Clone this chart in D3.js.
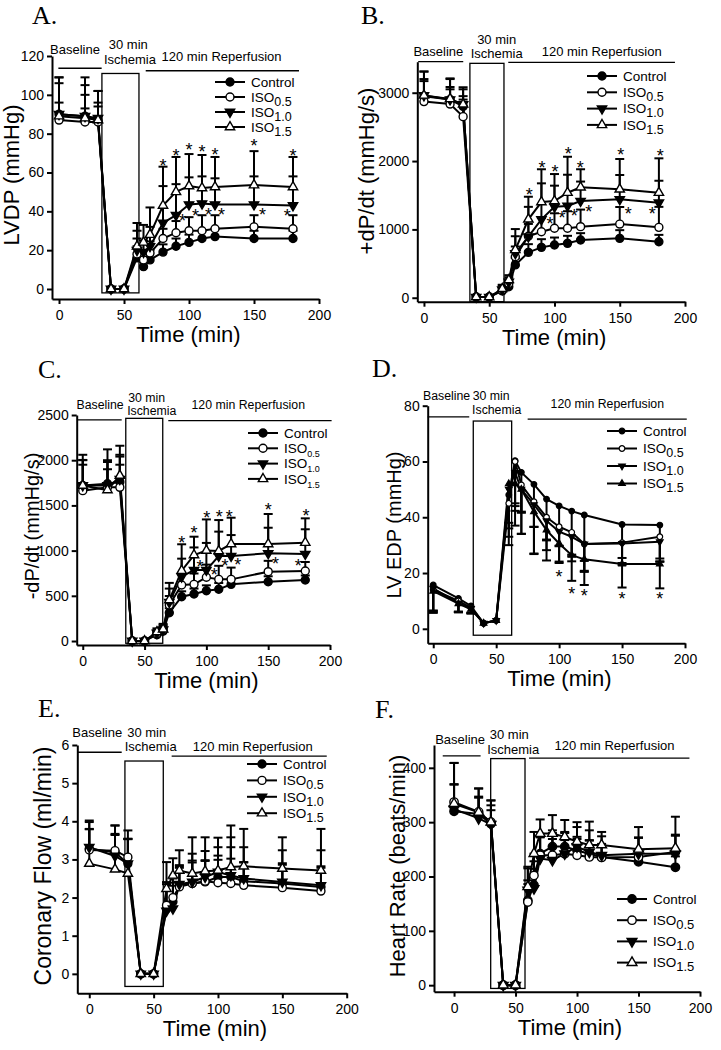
<!DOCTYPE html>
<html>
<head>
<meta charset="utf-8">
<script src="https://cdn.jsdelivr.net/npm/d3@7"></script>
<style>
  body { margin: 0; background: #fff; }
  text { font-family: "Liberation Sans", Arial, sans-serif; fill: #000; }
  .letter { font-family: "Liberation Serif", "Times New Roman", serif; font-size: 26px; }
  .axis path, .axis line { stroke: #000; stroke-width: 2; }
  .axis text { font-size: 14px; font-family: "Liberation Sans", Arial, sans-serif; }
  .phase { stroke: #000; stroke-width: 1.3; fill: none; }
  .sline { stroke: #000; stroke-width: 2; fill: none; }
  .err line { stroke: #000; stroke-width: 2; }
  .star { font-size: 18px; }
  .legend { font-size: 13.5px; }
</style>
</head>
<body>
<svg id="fig" width="721" height="1050"></svg>
<script>
// sampling times (min) shared by all panels
var times = [0, 20, 30, 40, 50, 60, 65, 70, 80, 90, 100, 110, 120, 150, 180];
var seriesNames = ["Control", "ISO0.5", "ISO1.0", "ISO1.5"];
var xTicks = [0, 50, 100, 150, 200];

// A. LVDP (mmHg)
var lvdpControl = [90, 89, 87, 0, 0, 16, 11.5, 15, 19, 22, 24, 26, 27, 26, 26];
var lvdpIso05   = [87, 86, 86, 0, 0, 18, 15, 18.5, 26, 29, 30, 30, 31, 32, 31];
var lvdpIso10   = [90, 89, 88, 0, 0, 20, 19, 22, 34, 38, 43.5, 44, 43.5, 43.5, 43];
var lvdpIso15   = [89, 88, 87, 0, 0, 22, 24, 28, 43, 50, 53, 52, 52.5, 53.5, 52.5];
var lvdpControlSd = [6, 4, 7, 0, 0, 6, 5, 5, 4, 4, 4, 4, 4, 4, 4];
var lvdpIso05Sd   = [19, 14, 10, 0, 0, 8, 5, 6, 5, 6, 7, 8, 7, 6, 7];
var lvdpIso10Sd   = [19, 16, 14, 0, 0, 10, 6, 10, 19, 16, 14, 14, 13.5, 14.5, 15];
var lvdpIso15Sd   = [20, 21, 15, 0, 0, 12, 9, 14, 20, 18, 16.5, 17, 15.5, 17.5, 15.5];
var lvdpStars = [[80, 65.6], [90, 70.7], [100, 73.8], [110, 73], [120, 71], [150, 76], [180, 70.5],
                 [95, 37], [105, 40], [115, 40.5], [125, 40.5], [156.5, 40.5], [175.5, 40]];

// B. +dP/dt (mmHg/s)
var dpPosControl = [2950, 2900, 2800, 10, 10, 100, 160, 480, 664, 737, 771, 796, 845, 869, 820];
var dpPosIso05   = [2870, 2834, 2650, 10, 10, 110, 210, 600, 900, 966, 1016, 1016, 1040, 1078, 1030];
var dpPosIso10   = [2960, 2900, 2830, 10, 10, 120, 230, 650, 893, 1147, 1330, 1342, 1415, 1440, 1390];
var dpPosIso15   = [2960, 2910, 2830, 10, 10, 130, 260, 700, 1147, 1400, 1415, 1537, 1616, 1586, 1537];
var dpPosControlSd = [250, 150, 150, 0, 0, 40, 60, 100, 120, 120, 110, 110, 100, 120, 100];
var dpPosIso05Sd   = [300, 250, 250, 0, 0, 40, 60, 150, 180, 200, 220, 250, 250, 250, 300];
var dpPosIso10Sd   = [350, 300, 220, 0, 0, 60, 100, 250, 437, 527, 310, 458, 285, 356, 322];
var dpPosIso15Sd   = [350, 300, 250, 0, 0, 60, 40, 305, 331, 480, 395, 526, 264, 444, 503];
var dpPosStars = [[80.7, 1566], [90.4, 1967], [100.4, 1908], [110.6, 2172], [119.8, 1967], [150.7, 2151], [181, 2137],
                  [96.5, 1147], [105.7, 1225], [115.2, 1254], [126.2, 1313], [156.6, 1294], [175, 1294]];

// C. -dP/dt (mmHg/s)
var dpNegControl = [1720, 1740, 1760, 0, 0, 70, 110, 313, 490, 520, 556, 572, 627, 656, 675];
var dpNegIso05   = [1663, 1700, 1700, 0, 0, 80, 120, 398, 620, 627, 705, 682, 682, 767, 774];
var dpNegIso10   = [1720, 1720, 1790, 0, 0, 90, 125, 430, 711, 785, 785, 940, 940, 970, 962];
var dpNegIso15   = [1720, 1670, 1830, 0, 0, 100, 130, 453, 778, 951, 1000, 996, 1073, 1073, 1088];
var dpNegControlSd = [230, 160, 190, 0, 0, 20, 30, 50, 60, 60, 60, 70, 60, 60, 50];
var dpNegIso05Sd   = [340, 300, 360, 0, 0, 30, 40, 100, 120, 120, 140, 150, 130, 120, 100];
var dpNegIso10Sd   = [280, 260, 250, 0, 0, 30, 50, 150, 200, 250, 300, 270, 232, 283, 274];
var dpNegIso15Sd   = [340, 450, 330, 0, 0, 40, 60, 190, 292, 203, 345, 342, 291, 332, 269];
var dpNegStars = [[80, 1136], [90, 1239], [100.3, 1412], [110.5, 1419], [118.6, 1419], [150, 1493], [180.6, 1430],
                  [94.9, 866], [106.4, 778], [115, 877], [125.3, 885], [156, 896], [174.4, 877]];

// D. LV EDP (mmHg), error bars point down
var edpControl = [15.7, 10.9, 8.2, 2, 3, 48, 60.3, 56.1, 51.8, 46.5, 44.1, 42.2, 40.8, 37.4, 37.2];
var edpIso05   = [14, 10, 7.5, 2, 3, 45, 60, 51.6, 45.6, 40, 36.6, 34.6, 30.4, 30.9, 33];
var edpIso10   = [14.5, 9.2, 7.3, 2, 3, 50, 56, 50, 44.5, 38.7, 34.8, 33, 30.4, 30.6, 31.2];
var edpIso15   = [13.5, 9, 7, 2, 3, 52, 52, 50, 42, 35.4, 30.6, 26.4, 24.9, 23.2, 23.2];
var edpControlSd = [10, 5, 2.5, 0, 0, 10, 18, 22, 25, 22, 20, 18, 20, 12, 12];
var edpIso05Sd   = [8, 4, 2, 0, 0, 12, 15, 10, 9, 8, 7, 8, 10, 8, 9];
var edpIso10Sd   = [8, 3, 1.5, 0, 0, 14, 12, 8, 8, 7, 5, 7, 6, 7, 7];
var edpIso15Sd   = [7, 3, 1.5, 0, 0, 22, 15, 16, 15, 7.2, 7, 9.2, 9.2, 8.4, 8.7];
var edpStars = [[100, 20.1], [110, 14.1], [120, 13.3], [150, 12.3], [180, 12.1]];

// E. Coronary flow (ml/min)
var flowControl = [3.28, 3.19, 2.89, 0, 0, 1.7, 1.89, 2.32, 2.37, 2.41, 2.54, 2.54, 2.43, 2.37, 2.28];
var flowIso05   = [3.25, 3.23, 3.06, 0, 0, 1.8, 2.0, 2.28, 2.37, 2.43, 2.39, 2.37, 2.32, 2.26, 2.17];
var flowIso10   = [3.32, 3.09, 2.89, 0, 0, 1.65, 1.71, 2.35, 2.41, 2.54, 2.67, 2.58, 2.5, 2.41, 2.32];
var flowIso15   = [2.89, 2.74, 2.63, 0, 0, 2.23, 2.58, 2.71, 2.63, 2.69, 2.71, 2.8, 2.82, 2.76, 2.71];
var flowControlSd = [0.7, 0.7, 0.65, 0, 0, 0.7, 0.5, 0.5, 0.6, 0.55, 0.56, 0.78, 0.5, 0.53, 0.5];
var flowIso05Sd   = [0.55, 0.44, 0.7, 0, 0, 0.6, 0.5, 0.5, 0.55, 0.55, 0.6, 0.65, 0.6, 0.6, 0.65];
var flowIso10Sd   = [0.7, 0.8, 0.65, 0, 0, 0.7, 0.6, 0.5, 0.74, 0.68, 0.65, 1.0, 0.82, 0.83, 0.92];
var flowIso15Sd   = [0.9, 0.9, 0.9, 0, 0, 0.7, 0.45, 0.53, 0.95, 0.89, 0.86, 1.09, 0.98, 0.82, 1.09];

// F. Heart rate (beats/min)
var hrControl = [320, 315, 297, 0, 0, 156, 184, 242, 255, 255, 248, 242, 236, 227, 217];
var hrIso05   = [337, 319, 300, 0, 0, 153, 202, 239, 239, 242, 239, 236, 235, 236, 245];
var hrIso10   = [324, 307, 296, 0, 0, 175, 178, 233, 230, 242, 255, 245, 239, 242, 242];
var hrIso15   = [334, 318, 300, 0, 0, 181, 242, 279, 279, 273, 264, 258, 258, 250, 252];
var hrControlSd = [50, 30, 25, 0, 0, 30, 30, 30, 30, 25, 25, 25, 20, 20, 20];
var hrIso05Sd   = [72, 43, 40, 0, 0, 40, 40, 35, 30, 25, 30, 30, 25, 35, 30];
var hrIso10Sd   = [45, 40, 35, 0, 0, 40, 50, 40, 50, 40, 45, 40, 35, 30, 35];
var hrIso15Sd   = [75, 44, 40, 0, 0, 37, 40, 26, 34, 31, 27, 43, 24, 41, 58];

// layout of the six panels (phase marks are given in data units)
var panels = [
  { letter: "A.", lx: 32, ly: 24, xr: [52, 319], xd: [-5.4, 200], yr: [299, 56], yd: [-5.15, 120],
    yticks: [0, 20, 40, 60, 80, 100, 120], ylab: "LVDP (mmHg)", ylx: 19, yly: 175, yls: 22,
    means: [lvdpControl, lvdpIso05, lvdpIso10, lvdpIso15],
    sds: [lvdpControlSd, lvdpIso05Sd, lvdpIso10Sd, lvdpIso15Sd], errDir: 1, stars: lvdpStars,
    phase: { base: [-0.5, 32.8, 113.7], rep: [66.7, 184.6, 112.4], box: [33, 61.5, -2, 111],
             tBase: [12.3, 123.4], t30: [53.3, 125.7], tIsch: [54.6, 118], tRep: [125, 119.6], fs: 13 },
    legend: { x: 230, y: 82, gap: 15, subSize: 12.5, subDy: 4 }, mk: 1 },
  { letter: "B.", lx: 361, ly: 24, xr: [417.3, 685], xd: [-5.1, 200], yr: [301.7, 61.7], yd: [-58, 3454],
    yticks: [0, 1000, 2000, 3000], ylab: "+dP/dt (mmHg/s)", ylx: 374, yly: 171, yls: 22,
    means: [dpPosControl, dpPosIso05, dpPosIso10, dpPosIso15],
    sds: [dpPosControlSd, dpPosIso05Sd, dpPosIso10Sd, dpPosIso15Sd], errDir: 1, stars: dpPosStars,
    phase: { base: [-4.4, 30.1, 3454], rep: [64.6, 192.3, 3444], box: [35.2, 61.3, -58, 3430],
             tBase: [11, 3600], t30: [55.7, 3782], tIsch: [55.7, 3577], tRep: [136.2, 3600], fs: 13 },
    legend: { x: 602, y: 76, gap: 16.3, subSize: 12.5, subDy: 4 }, mk: 1 },
  { letter: "C.", lx: 38, ly: 378, xr: [76.7, 330], xd: [-4.9, 200], yr: [645, 415], yd: [-44, 2500],
    yticks: [0, 500, 1000, 1500, 2000, 2500], ylab: "-dP/dt (mmHg/s)", ylx: 39, yly: 526, yls: 20,
    means: [dpNegControl, dpNegIso05, dpNegIso10, dpNegIso15],
    sds: [dpNegControlSd, dpNegIso05Sd, dpNegIso10Sd, dpNegIso15Sd], errDir: 1, stars: dpNegStars,
    phase: { base: [-4.4, 31.5, 2445], rep: [69.2, 201.3, 2437], box: [34.8, 64.7, -25, 2463],
             tBase: [14, 2618], t30: [51.7, 2696], tIsch: [55.8, 2544], tRep: [133.9, 2611], fs: 12.3 },
    legend: { x: 263, y: 433, gap: 15.3, subSize: 9, subDy: 4 }, mk: 1 },
  { letter: "D.", lx: 372, ly: 377, xr: [427.7, 685], xd: [-4.4, 200], yr: [643.3, 405.7], yd: [-5.2, 80],
    yticks: [0, 20, 40, 60, 80], ylab: "LV EDP (mmHg)", ylx: 401, yly: 525, yls: 20,
    means: [edpControl, edpIso05, edpIso10, edpIso15],
    sds: [edpControlSd, edpIso05Sd, edpIso10Sd, edpIso15Sd], errDir: -1, stars: edpStars,
    phase: { base: [-4.4, 28.6, 76], rep: [75, 201.4, 75.2], box: [31.8, 62.3, -2.3, 74.5],
             tBase: [10.6, 83.5], t30: [46, 83.5], tIsch: [50.4, 78.7], tRep: [138.3, 80.6], fs: 12.3 },
    legend: { x: 622, y: 431, gap: 17.5, subSize: 12.5, subDy: 4 }, mk: 0.5, solidTri: true },
  { letter: "E.", lx: 38, ly: 717, xr: [77.3, 346.7], xd: [-9.3, 200], yr: [993.3, 745], yd: [-0.51, 6],
    yticks: [0, 1, 2, 3, 4, 5, 6], ylab: "Coronary Flow (ml/min)", ylx: 51, yly: 866, yls: 23,
    means: [flowControl, flowIso05, flowIso10, flowIso15],
    sds: [flowControlSd, flowIso05Sd, flowIso10Sd, flowIso15Sd], errDir: 1, stars: [],
    phase: { base: [-9.3, 25.2, 5.81], rep: [64, 184.5, 5.71], box: [27.7, 57.5, -0.33, 5.58],
             tBase: [6.2, 6.32], t30: [44.6, 6.32], tIsch: [47.7, 5.95], tRep: [127, 5.97], fs: 13 },
    legend: { x: 262, y: 764, gap: 16.4, subSize: 12.5, subDy: 4 }, mk: 1 },
  { letter: "F.", lx: 375, ly: 718, xr: [434, 700], xd: [-16.3, 200], yr: [991.7, 745], yd: [-12, 442],
    yticks: [0, 100, 200, 300, 400], ylab: "Heart Rate (beats/min)", ylx: 405, yly: 866, yls: 22,
    means: [hrControl, hrIso05, hrIso10, hrIso15],
    sds: [hrControlSd, hrIso05Sd, hrIso10Sd, hrIso15Sd], errDir: 1, stars: [],
    phase: { base: [-9.2, 21.6, 422], rep: [61, 191.4, 418], box: [29.8, 57.7, -6, 417],
             tBase: [4.9, 453], t30: [44.9, 462], tIsch: [48.1, 434], tRep: [130.5, 442], fs: 13 },
    legend: { x: 632, y: 899, gap: 21.2, subSize: 13, subDy: 4 }, mk: 1.1 }
];

var svg = d3.select("#fig");

// marker for series i
function addMarker(g, si, cx, cy, p) {
  var isTri = si >= 2;
  var size = (isTri ? 38 : 50) * p.mk;
  var fill = (si === 0 || si === 2 || (si === 3 && p.solidTri)) ? "#000" : "#fff";
  var path = d3.symbol().type(isTri ? d3.symbolTriangle : d3.symbolCircle).size(size)();
  g.append("path")
   .attr("d", path)
   .attr("transform", "translate(" + cx + "," + cy + ")" + (si === 2 ? " rotate(180)" : ""))
   .attr("fill", fill)
   .attr("stroke", "#000")
   .attr("stroke-width", p.mk < 1 ? 1.2 : 1.4);
}

panels.forEach(function(p) {
  var x = d3.scaleLinear().domain(p.xd).range(p.xr);
  var y = d3.scaleLinear().domain(p.yd).range(p.yr);
  var g = svg.append("g");

  // panel letter
  g.append("text").attr("class", "letter").attr("x", p.lx).attr("y", p.ly).text(p.letter);

  // axes
  g.append("g").attr("class", "axis")
   .attr("transform", "translate(0," + p.yr[0] + ")")
   .call(d3.axisBottom(x).tickValues(xTicks).tickFormat(d3.format("d"))
           .tickSize(5).tickSizeOuter(0).tickPadding(6));
  g.append("g").attr("class", "axis")
   .attr("transform", "translate(" + p.xr[0] + ",0)")
   .call(d3.axisLeft(y).tickValues(p.yticks).tickFormat(d3.format("d"))
           .tickSize(5).tickSizeOuter(0).tickPadding(3));

  // axis titles
  g.append("text")
   .attr("x", (p.xr[0] + p.xr[1]) / 2 + 3).attr("y", p.yr[0] + 43)
   .attr("text-anchor", "middle").attr("font-size", 22).text("Time (min)");
  g.append("text")
   .attr("transform", "translate(" + p.ylx + "," + p.yly + ") rotate(-90)")
   .attr("text-anchor", "middle").attr("font-size", p.yls).text(p.ylab);

  // protocol phases
  var ph = p.phase;
  [ph.base, ph.rep].forEach(function(l) {
    g.append("line").attr("class", "phase")
     .attr("x1", x(l[0])).attr("x2", x(l[1])).attr("y1", y(l[2])).attr("y2", y(l[2]));
  });
  g.append("rect").attr("class", "phase")
   .attr("x", x(ph.box[0])).attr("y", y(ph.box[3]))
   .attr("width", x(ph.box[1]) - x(ph.box[0])).attr("height", y(ph.box[2]) - y(ph.box[3]));
  [[ph.tBase, "Baseline"], [ph.t30, "30 min"], [ph.tIsch, "Ischemia"], [ph.tRep, "120 min Reperfusion"]]
    .forEach(function(d) {
      g.append("text")
       .attr("x", x(d[0][0])).attr("y", y(d[0][1])).attr("dy", "0.35em")
       .attr("font-size", ph.fs)
       .attr("text-anchor", "middle").text(d[1]);
    });

  // error bars
  p.means.forEach(function(vals, si) {
    var pts = times.map(function(t, i) { return { t: t, v: vals[i], sd: p.sds[si][i] }; })
                   .filter(function(d) { return d.sd > 0; });
    var eb = g.append("g").attr("class", "err");
    eb.selectAll("line.stem").data(pts).enter().append("line").attr("class", "stem")
      .attr("x1", d => x(d.t)).attr("x2", d => x(d.t))
      .attr("y1", d => y(d.v)).attr("y2", d => y(d.v + p.errDir * d.sd));
    eb.selectAll("line.cap").data(pts).enter().append("line").attr("class", "cap")
      .attr("x1", d => x(d.t) - 4.5).attr("x2", d => x(d.t) + 4.5)
      .attr("y1", d => y(d.v + p.errDir * d.sd)).attr("y2", d => y(d.v + p.errDir * d.sd));
  });

  // lines
  var line = d3.line().x(d => x(d[0])).y(d => y(d[1]));
  p.means.forEach(function(vals) {
    g.append("path").attr("class", "sline")
     .datum(times.map(function(t, i) { return [t, vals[i]]; }))
     .attr("d", line);
  });

  // markers
  p.means.forEach(function(vals, si) {
    times.forEach(function(t, i) { addMarker(g, si, x(t), y(vals[i]), p); });
  });

  // significance marks
  p.stars.forEach(function(d) {
    g.append("text").attr("class", "star")
     .attr("x", x(d[0])).attr("y", y(d[1])).attr("dy", "0.57em")
     .attr("text-anchor", "middle").text("*");
  });

  // legend
  var L = p.legend;
  seriesNames.forEach(function(name, si) {
    var ry = L.y + si * L.gap;
    g.append("line").attr("class", "sline")
     .attr("x1", L.x - 15).attr("x2", L.x + 15).attr("y1", ry).attr("y2", ry);
    addMarker(g, si, L.x, ry, p);
    var t = g.append("text").attr("class", "legend")
     .attr("x", L.x + 21).attr("y", ry).attr("dy", "0.35em");
    if (name.indexOf("ISO") === 0) {
      t.append("tspan").text("ISO");
      t.append("tspan").attr("dy", L.subDy).attr("font-size", L.subSize).text(name.slice(3));
    } else {
      t.text(name);
    }
  });
});
</script>
</body>
</html>
